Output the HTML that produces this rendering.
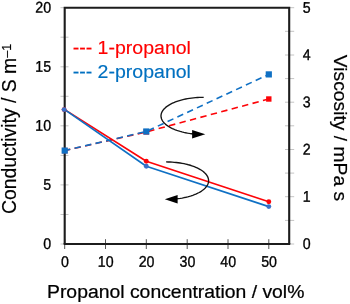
<!DOCTYPE html><html><head><meta charset="utf-8"><title>chart</title><style>html,body{margin:0;padding:0;background:#fff}svg{display:block}text{font-family:"Liberation Sans",Arial,sans-serif}</style></head><body>
<svg width="350" height="304" viewBox="0 0 350 304">
<rect width="350" height="304" fill="#fff"/>
<path d="M60.5 244.0H68.5 M60.5 214.5H68.5 M60.5 184.9H68.5 M60.5 155.4H68.5 M60.5 125.8H68.5 M60.5 96.3H68.5 M60.5 66.8H68.5 M60.5 37.2H68.5 M60.5 7.7H68.5 M285.0 244.0H294.2 M285.0 220.4H294.2 M285.0 196.7H294.2 M285.0 173.1H294.2 M285.0 149.5H294.2 M285.0 125.8H294.2 M285.0 102.2H294.2 M285.0 78.6H294.2 M285.0 55.0H294.2 M285.0 31.3H294.2 M285.0 7.7H294.2" stroke="#c4c4c4" stroke-width="1" fill="none"/>
<path d="M64.7 239.2V249.0 M105.5 239.2V249.0 M146.3 239.2V249.0 M187.2 239.2V249.0 M228.0 239.2V249.0 M268.8 239.2V249.0" stroke="#555" stroke-width="1" fill="none"/>
<path d="M64.7 244.0V7.7H289.2V244.0" stroke="#1c1c1c" stroke-width="2.1" fill="none" stroke-linejoin="miter"/>
<path d="M63.650000000000006 244.0H290.25" stroke="#1c1c1c" stroke-width="2.2" fill="none"/>
<polyline points="64.7,150.6 146.3,131.9 268.8,99" fill="none" stroke="#fd0408" stroke-width="1.6" stroke-dasharray="6.4 4.4" stroke-dashoffset="0.7"/>
<polyline points="64.7,150.6 146.3,131.5 268.8,74.4" fill="none" stroke="#0f70c4" stroke-width="1.6" stroke-dasharray="6.4 4.4" stroke-dashoffset="0.7"/>
<polyline points="64.7,109.6 146.3,161.2 268.8,201.7" fill="none" stroke="#fd0408" stroke-width="1.65" stroke-linejoin="round"/>
<polyline points="64.7,109.6 146.3,166.3 268.8,206.6" fill="none" stroke="#0f70c4" stroke-width="1.65" stroke-linejoin="round"/>
<rect x="62.0" y="147.9" width="5.4" height="5.4" fill="#fd0408"/>
<rect x="143.6" y="129.2" width="5.4" height="5.4" fill="#fd0408"/>
<rect x="266.1" y="96.3" width="5.4" height="5.4" fill="#fd0408"/>
<rect x="61.6" y="147.5" width="6.2" height="6.2" fill="#0f70c4"/>
<rect x="143.2" y="128.4" width="6.2" height="6.2" fill="#0f70c4"/>
<rect x="265.7" y="71.3" width="6.2" height="6.2" fill="#0f70c4"/>
<circle cx="64.1" cy="109.6" r="2.45" fill="#fd0408"/>
<circle cx="146.3" cy="161.2" r="2.45" fill="#fd0408"/>
<circle cx="268.8" cy="201.7" r="2.45" fill="#fd0408"/>
<circle cx="64.1" cy="109.6" r="2.45" fill="#3a70c8"/>
<circle cx="146.3" cy="166.3" r="2.45" fill="#3a70c8"/>
<circle cx="268.8" cy="206.6" r="2.45" fill="#3a70c8"/>
<path d="M203.70 97.30L201.64 97.32L199.58 97.39L197.54 97.49L195.50 97.65L193.49 97.84L191.50 98.08L189.54 98.35L187.61 98.67L185.72 99.03L183.87 99.43L182.07 99.86L180.32 100.34L178.62 100.85L176.98 101.39L175.41 101.97L173.90 102.58L172.45 103.22L171.09 103.89L169.79 104.59L168.58 105.32L167.45 106.07L166.40 106.84L165.44 107.64L164.57 108.45L163.79 109.28L163.11 110.13L162.51 110.99L162.02 111.86L161.62 112.74L161.32 113.63L161.12 114.53L161.01 115.42L161.01 116.32L161.11 117.22L161.30 118.11L161.60 119.00L161.99 119.88L162.48 120.76L163.07 121.62L163.75 122.46L164.52 123.30L165.39 124.11L166.34 124.91L167.38 125.68L168.51 126.44L169.72 127.16L171.01 127.86L172.37 128.54L173.81 129.18L175.31 129.79L176.89 130.38L178.52 130.92L180.22 131.43L181.96 131.91L183.76 132.35L185.61 132.75L187.50 133.11L189.42 133.43L191.38 133.71L193.37 133.95" fill="none" stroke="#151515" stroke-width="1.35" stroke-linejoin="round"/>
<path d="M192.1 130.1L205.3 134.3L192.1 138.4Z" fill="#000"/>
<path d="M166.10 161.95L168.15 161.97L170.20 162.04L172.24 162.15L174.26 162.30L176.26 162.49L178.24 162.73L180.19 163.01L182.11 163.33L183.99 163.69L185.83 164.09L187.63 164.53L189.37 165.01L191.06 165.52L192.69 166.07L194.26 166.66L195.76 167.27L197.20 167.92L198.56 168.60L199.85 169.30L201.06 170.03L202.18 170.79L203.22 171.57L204.18 172.37L205.05 173.19L205.82 174.03L206.50 174.89L207.09 175.75L207.59 176.63L207.98 177.52L208.28 178.41L208.48 179.32L208.59 180.22L208.59 181.13L208.49 182.03L208.30 182.93L208.00 183.83L207.61 184.72L207.13 185.59L206.54 186.46L205.87 187.32L205.09 188.16L204.23 188.98L203.28 189.78L202.25 190.56L201.13 191.32L199.92 192.05L198.64 192.76L197.28 193.44L195.85 194.09L194.35 194.71L192.79 195.29L191.16 195.84L189.47 196.36L187.73 196.84L185.94 197.28L184.11 197.68L182.23 198.05L180.31 198.37L178.36 198.65L176.38 198.89" fill="none" stroke="#151515" stroke-width="1.35" stroke-linejoin="round"/>
<path d="M177.6 195.1L164.8 199.3L177.6 203.5Z" fill="#000"/>
<text transform="translate(51.0 249.0) rotate(0.3) scale(0.912 1)" font-size="15.5" text-anchor="end" fill="#000" stroke="#000" stroke-width="0.35" >0</text>
<text transform="translate(51.0 189.9) rotate(0.3) scale(0.912 1)" font-size="15.5" text-anchor="end" fill="#000" stroke="#000" stroke-width="0.35" >5</text>
<text transform="translate(51.0 130.8) rotate(0.3) scale(0.912 1)" font-size="15.5" text-anchor="end" fill="#000" stroke="#000" stroke-width="0.35" >10</text>
<text transform="translate(51.0 71.8) rotate(0.3) scale(0.912 1)" font-size="15.5" text-anchor="end" fill="#000" stroke="#000" stroke-width="0.35" >15</text>
<text transform="translate(51.0 12.7) rotate(0.3) scale(0.912 1)" font-size="15.5" text-anchor="end" fill="#000" stroke="#000" stroke-width="0.35" >20</text>
<text transform="translate(302.7 249.0) rotate(0.3) scale(0.912 1)" font-size="15.5" text-anchor="start" fill="#000" stroke="#000" stroke-width="0.35" >0</text>
<text transform="translate(302.7 201.7) rotate(0.3) scale(0.912 1)" font-size="15.5" text-anchor="start" fill="#000" stroke="#000" stroke-width="0.35" >1</text>
<text transform="translate(302.7 154.5) rotate(0.3) scale(0.912 1)" font-size="15.5" text-anchor="start" fill="#000" stroke="#000" stroke-width="0.35" >2</text>
<text transform="translate(302.7 107.2) rotate(0.3) scale(0.912 1)" font-size="15.5" text-anchor="start" fill="#000" stroke="#000" stroke-width="0.35" >3</text>
<text transform="translate(302.7 60.0) rotate(0.3) scale(0.912 1)" font-size="15.5" text-anchor="start" fill="#000" stroke="#000" stroke-width="0.35" >4</text>
<text transform="translate(302.7 12.7) rotate(0.3) scale(0.912 1)" font-size="15.5" text-anchor="start" fill="#000" stroke="#000" stroke-width="0.35" >5</text>
<text transform="translate(64.9 266.9) rotate(0.3) scale(0.912 1)" font-size="15.5" text-anchor="middle" fill="#000" stroke="#000" stroke-width="0.35" >0</text>
<text transform="translate(105.7 266.9) rotate(0.3) scale(0.912 1)" font-size="15.5" text-anchor="middle" fill="#000" stroke="#000" stroke-width="0.35" >10</text>
<text transform="translate(146.5 266.9) rotate(0.3) scale(0.912 1)" font-size="15.5" text-anchor="middle" fill="#000" stroke="#000" stroke-width="0.35" >20</text>
<text transform="translate(187.4 266.9) rotate(0.3) scale(0.912 1)" font-size="15.5" text-anchor="middle" fill="#000" stroke="#000" stroke-width="0.35" >30</text>
<text transform="translate(228.2 266.9) rotate(0.3) scale(0.912 1)" font-size="15.5" text-anchor="middle" fill="#000" stroke="#000" stroke-width="0.35" >40</text>
<text transform="translate(269.0 266.9) rotate(0.3) scale(0.912 1)" font-size="15.5" text-anchor="middle" fill="#000" stroke="#000" stroke-width="0.35" >50</text>
<text transform="translate(72.7 54.4) scale(1.028 1)" font-size="19.0" text-anchor="start" fill="#ff0000" stroke="#ff0000" stroke-width="0.15" >--- 1-propanol</text>
<text transform="translate(72.7 78.4) scale(1.028 1)" font-size="19.0" text-anchor="start" fill="#0070c0" stroke="#0070c0" stroke-width="0.15" >--- 2-propanol</text>
<text transform="translate(47.0 298.4) scale(1.037 1)" font-size="18.7" text-anchor="start" fill="#000" stroke="#000" stroke-width="0.25" >Propanol concentration / vol%</text>
<text transform="translate(16.3 214) rotate(-90)" font-size="19.4" fill="#000" stroke="#000" stroke-width="0.2">Conductivity / S m<tspan dy="-5.8" font-size="12.5">–1</tspan></text>
<text transform="translate(334.4 54.8) rotate(90)" font-size="19.28" fill="#000" stroke="#000" stroke-width="0.2">Viscosity / mPa s</text>
</svg></body></html>
